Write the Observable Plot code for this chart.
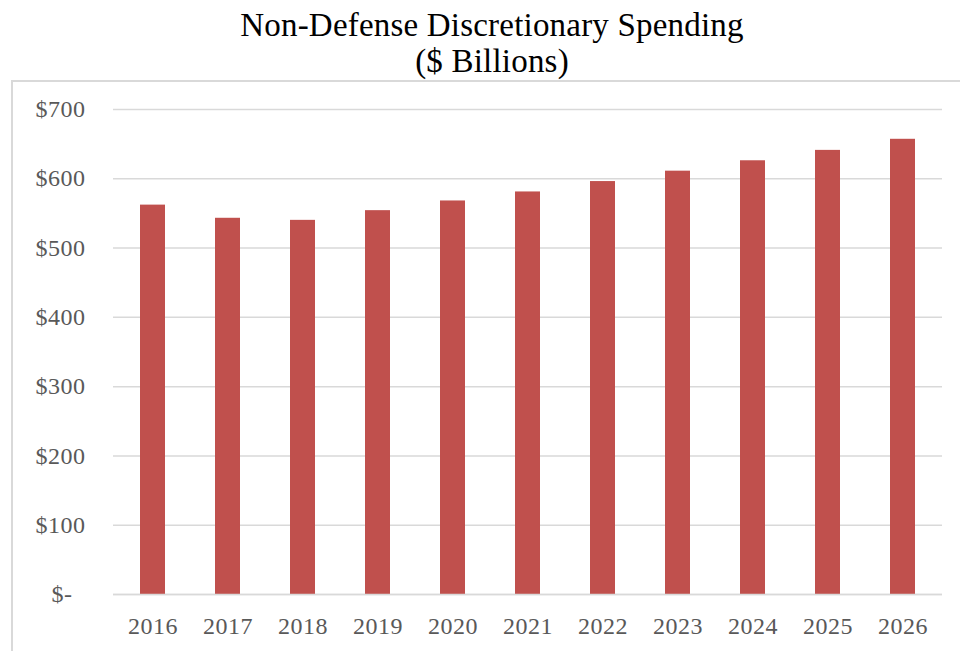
<!DOCTYPE html>
<html>
<head>
<meta charset="utf-8">
<script src="https://cdn.jsdelivr.net/npm/d3@7"></script>
<script src="https://cdn.jsdelivr.net/npm/@observablehq/plot@0.6"></script>
<style>
  html, body { margin: 0; padding: 0; background: #fff; width: 960px; height: 651px; overflow: hidden; }
  #title { position: absolute; left: 0; top: 0; width: 984px; text-align: center;
    font-family: "Liberation Serif", "DejaVu Serif", serif; font-size: 33px; letter-spacing: 0.2px; line-height: 36px; color: #000; padding-top: 7px; }
  #frame { position: absolute; left: 11px; top: 80px; width: 1000px; height: 600px;
    border-left: 2px solid #d9d9d9; border-top: 2px solid #d9d9d9; }
  #chart { position: absolute; left: 13px; top: 82px; }
</style>
</head>
<body>
<div id="title">Non-Defense Discretionary Spending<br>($ Billions)</div>
<div id="frame"></div>
<div id="chart"></div>
<script>
const years = ["2016","2017","2018","2019","2020","2021","2022","2023","2024","2025","2026"];
const spending = [562, 543, 540, 554, 568, 581, 596, 611, 626, 641, 657];
const yTicks = [0, 100, 200, 300, 400, 500, 600, 700];

const data = years.map((y, i) => ({year: y, value: spending[i]}));

const fmt = v => v === 0 ? "$-\u00a0\u00a0" : "$" + v;

const chart = Plot.plot({
  width: 947,
  height: 569,
  marginLeft: 100,
  marginRight: 18,
  marginTop: 27,
  marginBottom: 57,
  style: { fontFamily: "'Liberation Serif', 'DejaVu Serif', serif", fontSize: "24px", color: "#595959", background: "transparent", letterSpacing: "0.5px" },
  x: { domain: years, paddingInner: 0.67, paddingOuter: 0.335, label: null },
  y: { domain: [0, 700], label: null },
  marks: [
    Plot.gridY(yTicks, { stroke: "#d9d9d9", strokeOpacity: 1, strokeWidth: 1.5 }),
    Plot.barY(data, { x: "year", y: "value", fill: "#C0504D" }),
    Plot.ruleY([0], { stroke: "#d9d9d9", strokeWidth: 1.5 }),
    Plot.axisY(yTicks, { tickSize: 0, tickPadding: 28, tickFormat: fmt, fill: "#595959", fontSize: 24 }),
    Plot.axisX({ tickSize: 0, tickPadding: 22, fill: "#595959", fontSize: 24 })
  ]
});
document.getElementById("chart").appendChild(chart);
</script>
</body>
</html>
